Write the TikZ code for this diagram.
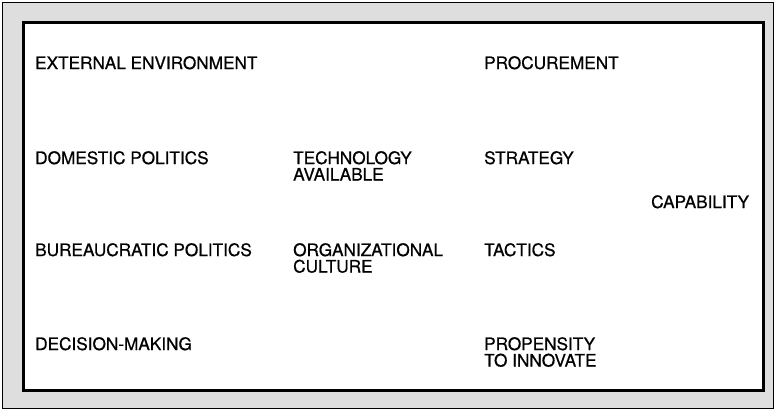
\documentclass[tikz,border=0pt]{standalone}
\usepackage{fontspec}
\setmainfont{TeX Gyre Heros}[FakeBold=0.7]
\begin{document}
\begin{tikzpicture}[x=1pt,y=-1pt,
  lbl/.style={anchor=north west,inner sep=0pt,align=left,font=\fontsize{17.2}{16.5}\selectfont},
  band/.style={fill=black!13,draw=black,line width=1pt},
  panel/.style={fill=white,draw=black,line width=3pt}]
\useasboundingbox (0,0) rectangle (776,411);
\path[band] (2.5,2.5) rectangle (773.5,408.5);
\path[panel] (23.5,23) rectangle (763,390.5);
\node[lbl] (ext) at (35,56) {EXTERNAL ENVIRONMENT};
\node[lbl] (proc) at (484,56) {PROCUREMENT};
\node[lbl] (dom) at (35,151) {DOMESTIC POLITICS};
\node[lbl] (tech) at (293,151) {TECHNOLOGY\\AVAILABLE};
\node[lbl] (strat) at (484,151) {STRATEGY};
\node[lbl] (cap) at (651,195) {CAPABILITY};
\node[lbl] (bur) at (35,243) {BUREAUCRATIC POLITICS};
\node[lbl] (org) at (293,243) {ORGANIZATIONAL\\CULTURE};
\node[lbl] (tac) at (484,243) {TACTICS};
\node[lbl] (dec) at (35,337) {DECISION-MAKING};
\node[lbl] (prop) at (484,337) {PROPENSITY\\TO INNOVATE};
\end{tikzpicture}
\end{document}
